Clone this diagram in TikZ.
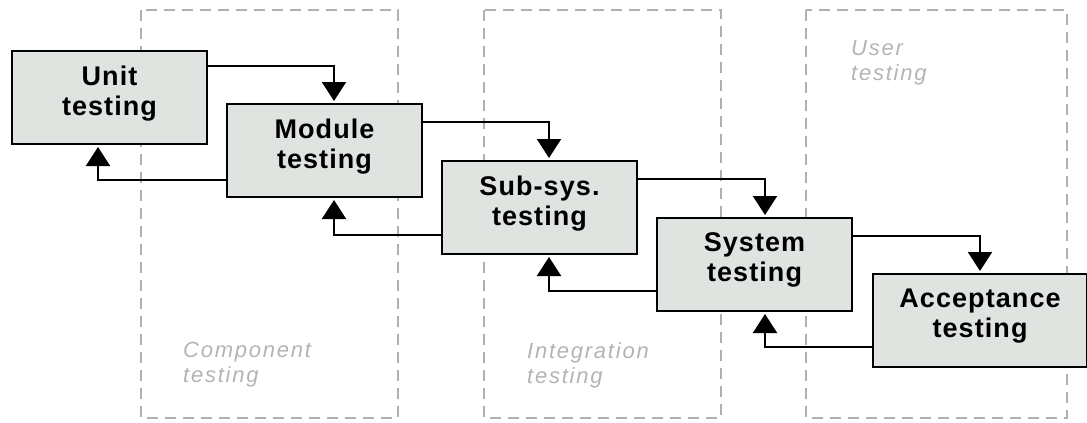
\documentclass[tikz,border=0pt]{standalone}
\usepackage{fontspec}
\setmainfont{Liberation Sans}
\usetikzlibrary{arrows.meta}
\definecolor{boxfill}{HTML}{E0E4E0}
\definecolor{zonegray}{HTML}{B0B0B0}
\definecolor{labelgray}{HTML}{B4B4B4}
\newfontfamily\boxfont[LetterSpace=4]{Liberation Sans Bold}
\newfontfamily\zonefont[LetterSpace=8]{Liberation Sans Italic}
\begin{document}
\begin{tikzpicture}[x=1pt,y=-1pt,
  stagebox/.style={draw=black,line width=2pt,fill=boxfill,anchor=north west,
    minimum width=195pt,minimum height=93pt,inner sep=0pt,align=center,
    text depth=14pt,
    font=\boxfont\fontsize{27}{30}\selectfont},
  zone/.style={draw=zonegray,line width=1.4pt,dash pattern=on 11pt off 7pt},
  zonelabel/.style={anchor=north west,inner sep=0pt,align=left,text=labelgray,
    font=\zonefont\fontsize{22}{25}\selectfont},
  conn/.style={draw=black,line width=2pt,shorten >=2pt,
    -{Triangle[width=24pt,length=19pt]}}]
\useasboundingbox (0,0) rectangle (1087,423);
% zones
\draw[zone] (141,10) rectangle (398,418);
\draw[zone] (484,10) rectangle (721,418);
\draw[zone] (806,10) rectangle (1067,418);
\node[zonelabel] (lcomp) at (183,342) {Component\\testing};
\node[zonelabel] (lint) at (527,342) {Integration\\testing};
\node[zonelabel] (luser) at (851,40) {User\\testing};
% boxes
\node[stagebox] (unit) at (11,50) {Unit\\testing};
\node[stagebox] (module) at (226,103) {Module\\testing};
\node[stagebox] (subsys) at (441,160) {Sub-sys.\\testing};
\node[stagebox] (system) at (656,217) {System\\testing};
\node[stagebox,minimum width=214pt] (accept) at (872,273) {Acceptance\\testing};
% port coordinates
\coordinate (pu) at (98,0);
\coordinate (pm) at (334,0);
\coordinate (ps) at (549,0);
\coordinate (py) at (765,0);
\coordinate (pa) at (980,0);
\coordinate (y1) at (0,66);
\coordinate (y2) at (0,122);
\coordinate (y3) at (0,179);
\coordinate (y4) at (0,236);
\coordinate (b1) at (0,180);
\coordinate (b2) at (0,235);
\coordinate (b3) at (0,291);
\coordinate (b4) at (0,347);
% forward
\draw[conn] (unit.east |- y1) -| (pm |- module.north);
\draw[conn] (module.east |- y2) -| (ps |- subsys.north);
\draw[conn] (subsys.east |- y3) -| (py |- system.north);
\draw[conn] (system.east |- y4) -| (pa |- accept.north);
% feedback
\draw[conn] (module.west |- b1) -| (pu |- unit.south);
\draw[conn] (subsys.west |- b2) -| (pm |- module.south);
\draw[conn] (system.west |- b3) -| (ps |- subsys.south);
\draw[conn] (accept.west |- b4) -| (py |- system.south);
\end{tikzpicture}
\end{document}
